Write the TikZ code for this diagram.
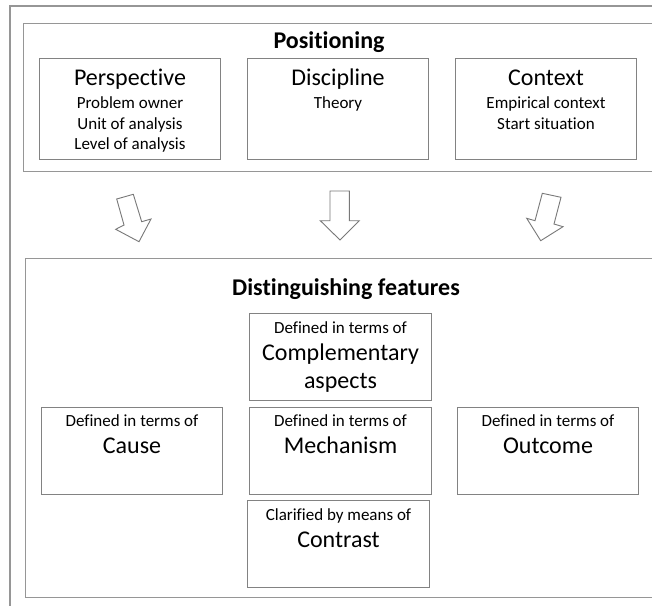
\documentclass[tikz,border=0pt]{standalone}
\usepackage{fontspec}
\setmainfont{Carlito}[Ligatures={NoCommon,NoContextual}]
\definecolor{boxgray}{RGB}{130,130,130}
\definecolor{framegray}{RGB}{150,150,150}
\definecolor{arrowgray}{RGB}{120,120,120}
\tikzset{
  boxnode/.style={draw=boxgray, line width=1pt, rectangle, inner sep=0pt, anchor=north west},
  framenode/.style={draw=framegray, line width=1.4pt, rectangle, inner sep=0pt, anchor=north west},
  txts/.style={font=\fontsize{17}{20}\selectfont, inner sep=0pt, anchor=base},
  txtl/.style={font=\fontsize{24}{29}\selectfont, inner sep=0pt, anchor=base},
  txtt/.style={font=\bfseries\fontsize{24}{29}\selectfont, inner sep=0pt, anchor=base},
  blockarrow/.style={draw=arrowgray, line width=0.9pt, fill=white, line join=miter}
}
\begin{document}
\begin{tikzpicture}[x=1pt, y=-1pt]
\useasboundingbox[fill=white] (0,0) rectangle (652,605);
\clip (0,0) rectangle (652,605);
% outer frame (cropped)
\draw[framegray, line width=1.4pt] (10,615) -- (10,6) -- (665,6);
% Positioning block
\node[framenode, minimum width=642pt, minimum height=148pt] (pos) at (23,23) {};
\node[txtt] (posT) at (329,48.5) {Positioning};
\node[boxnode, minimum width=181pt, minimum height=101pt] (persp) at (39,58) {};
\node[boxnode, minimum width=181pt, minimum height=101pt] (disc) at (247,58) {};
\node[boxnode, minimum width=181pt, minimum height=101pt] (ctx) at (455,58) {};
\node[txtl] (perspT) at ([yshift=-27.5pt]persp.north) {Perspective};
\node[txts] (persp1) at ([yshift=-50.3pt]persp.north) {Problem owner};
\node[txts] (persp2) at ([yshift=-71pt]persp.north) {Unit of analysis};
\node[txts] (persp3) at ([yshift=-91pt]persp.north) {Level of analysis};
\node[txtl] (discT) at ([yshift=-27.5pt]disc.north) {Discipline};
\node[txts] (disc1) at ([yshift=-50.3pt]disc.north) {Theory};
\node[txtl] (ctxT) at ([yshift=-27.5pt]ctx.north) {Context};
\node[txts] (ctx1) at ([yshift=-50.3pt]ctx.north) {Empirical context};
\node[txts] (ctx2) at ([yshift=-71pt]ctx.north) {Start situation};
% block arrows
\draw[blockarrow] (116.7,199) -- (133.3,194.3) -- (141.7,221.7) -- (151,219) -- (139,241.7) -- (115.7,229.3) -- (124,225) -- cycle;
\draw[blockarrow] (330,191) -- (349.3,191) -- (349.3,220.7) -- (359.3,220.7) -- (340,240) -- (320.3,220.7) -- (330,220.7) -- cycle;
\draw[blockarrow] (542.3,193.3) -- (561,197.3) -- (554,224) -- (563,226.7) -- (540.7,240.7) -- (526.7,218.3) -- (535,220.7) -- cycle;
% Distinguishing features block
\node[framenode, minimum width=640pt, minimum height=339pt] (dist) at (25,258) {};
\node[txtt] (distT) at (346,295) {Distinguishing features};
\node[boxnode, minimum width=181pt, minimum height=87pt] (cause) at (41,406.5) {};
\node[boxnode, minimum width=182pt, minimum height=87pt] (comp) at (249,313) {};
\node[boxnode, minimum width=182pt, minimum height=87pt] (mech) at (249,406.5) {};
\node[boxnode, minimum width=182pt, minimum height=87pt] (contr) at (247,500) {};
\node[boxnode, minimum width=181pt, minimum height=87pt] (outc) at (457,406.5) {};
\node[txts] (cause1) at ([yshift=-20.3pt]cause.north) {Defined in terms of};
\node[txtl] (cause2) at ([yshift=-47pt]cause.north) {Cause};
\node[txts] (comp1) at ([yshift=-20.3pt]comp.north) {Defined in terms of};
\node[txtl] (comp2) at ([yshift=-47.7pt]comp.north) {Complementary};
\node[txtl] (comp3) at ([yshift=-75.3pt]comp.north) {aspects};
\node[txts] (mech1) at ([yshift=-20.3pt]mech.north) {Defined in terms of};
\node[txtl] (mech2) at ([yshift=-47pt]mech.north) {Mechanism};
\node[txts] (contr1) at ([yshift=-20.3pt]contr.north) {Clarified by means of};
\node[txtl] (contr2) at ([yshift=-47.3pt]contr.north) {Contrast};
\node[txts] (outc1) at ([yshift=-20.3pt]outc.north) {Defined in terms of};
\node[txtl] (outc2) at ([yshift=-47pt]outc.north) {Outcome};
\end{tikzpicture}
\end{document}
